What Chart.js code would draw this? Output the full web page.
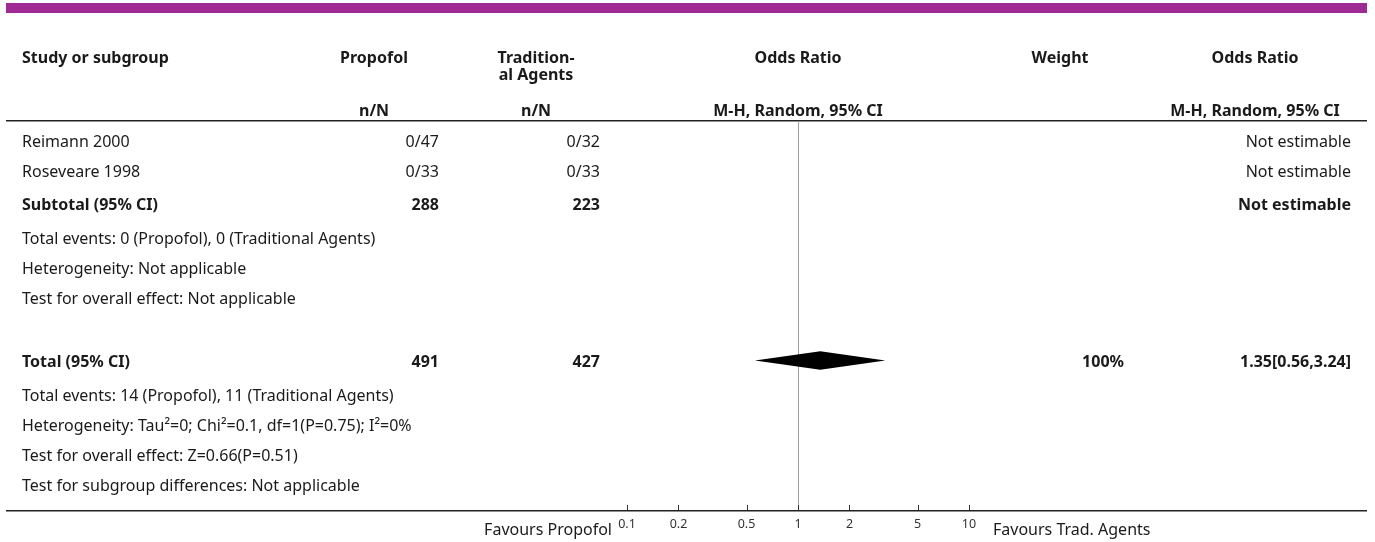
<!DOCTYPE html>
<html>
<head>
<meta charset="utf-8">
<script src="https://cdn.jsdelivr.net/npm/chart.js@4/dist/chart.umd.min.js"></script>
<style>
  html, body { margin: 0; padding: 0; background: #ffffff; overflow: hidden; }
  #wrap { position: relative; width: 1375px; height: 542px; }
</style>
</head>
<body>
<div id="wrap"><canvas id="forest" width="1375" height="542"></canvas></div>
<script>
// ---- data ----
const studyNames      = ['Reimann 2000', 'Roseveare 1998'];
const propofolEvents  = [0, 0];
const propofolTotals  = [47, 33];
const tradEvents      = [0, 0];
const tradTotals      = [32, 33];
const subtotalTotals  = [288, 223];
const overallTotals   = [491, 427];
const overallEvents   = [14, 11];
const pooledOR        = [1.35];
const pooledLow       = [0.56];
const pooledHigh      = [3.24];
const pooledWeight    = [100];
const axisTicks       = [0.1, 0.2, 0.5, 1, 2, 5, 10];
const subgroupNotes   = ['Heterogeneity: Not applicable', 'Test for overall effect: Not applicable'];
const overallNotes    = ['Heterogeneity: Tau\u00B2=0; Chi\u00B2=0.1, df=1(P=0.75); I\u00B2=0%',
                         'Test for overall effect: Z=0.66(P=0.51)',
                         'Test for subgroup differences: Not applicable'];

// ---- layout ----
const FONT = '"Noto Sans", "Open Sans", sans-serif';
const FS = 16;
const TEXT_DY = 2;              // optical nudge for middle-baseline text
const INK = '#1a1a1a';
const COL = { study: 22, propR: 439, propC: 374, tradR: 600, tradC: 536, weightR: 1124, weightC: 1060, orR: 1351, orC: 1255 };
// row band heights (in row units); summary rows are a little taller
const BAND_NORMAL = 1, BAND_SUMMARY = 37 / 30;
const ROW_MIN = -0.1, ROW_MAX = 12.833;
const DIAMOND_HALF = 0.307;

const sum = a => a.reduce((s, v) => s + v, 0);

// table rows, each placed at the centre of its band
const rows = [];
let cursor = 0;
function addRow(row, band) {
  row.r = cursor + band / 2;
  cursor += band;
  if (row.study !== null) rows.push(row);
  return row.r;
}
studyNames.forEach((n, i) => {
  addRow({ bold: false, study: n,
    prop: propofolEvents[i] + '/' + propofolTotals[i],
    trad: tradEvents[i] + '/' + tradTotals[i],
    or: 'Not estimable' }, BAND_NORMAL);
});
addRow({ bold: true, study: 'Subtotal (95% CI)', prop: String(subtotalTotals[0]), trad: String(subtotalTotals[1]), or: 'Not estimable' }, BAND_SUMMARY);
addRow({ bold: false, study: 'Total events: ' + sum(propofolEvents) + ' (Propofol), ' + sum(tradEvents) + ' (Traditional Agents)' }, BAND_NORMAL);
subgroupNotes.forEach(t => addRow({ bold: false, study: t }, BAND_NORMAL));
addRow({ study: null }, BAND_NORMAL); // spacer
const totalRow = addRow({ bold: true, study: 'Total (95% CI)', prop: String(overallTotals[0]), trad: String(overallTotals[1]),
  weight: pooledWeight[0] + '%', or: pooledOR[0].toFixed(2) + '[' + pooledLow[0].toFixed(2) + ',' + pooledHigh[0].toFixed(2) + ']' }, BAND_SUMMARY);
addRow({ bold: false, study: 'Total events: ' + overallEvents[0] + ' (Propofol), ' + overallEvents[1] + ' (Traditional Agents)' }, BAND_NORMAL);
overallNotes.forEach(t => addRow({ bold: false, study: t }, BAND_NORMAL));

// pooled-estimate diamond outline in (odds ratio, row) space
const diamond = [
  { x: pooledLow[0],  y: totalRow },
  { x: pooledOR[0],   y: totalRow - DIAMOND_HALF },
  { x: pooledHigh[0], y: totalRow },
  { x: pooledOR[0],   y: totalRow + DIAMOND_HALF },
  { x: pooledLow[0],  y: totalRow }
];

function txt(ctx, s, x, y, align, bold, size) {
  ctx.font = (bold ? 'bold ' : '') + (size || FS) + 'px ' + FONT;
  ctx.textAlign = align;
  ctx.textBaseline = 'middle';
  ctx.fillStyle = INK;
  ctx.fillText(s, x, y + TEXT_DY);
}

const tablePlugin = {
  id: 'forestTable',
  beforeDatasetsDraw(chart) {
    const ctx = chart.ctx, xs = chart.scales.x, ys = chart.scales.y, a = chart.chartArea;
    ctx.save();
    // top banner
    ctx.fillStyle = '#9e2a96';
    ctx.fillRect(6, 3, 1361, 10);
    // header rule and bottom rule
    ctx.strokeStyle = '#222';
    ctx.lineWidth = 1.5;
    ctx.beginPath();
    ctx.moveTo(6, a.top - 1.25); ctx.lineTo(1367, a.top - 1.25);
    ctx.moveTo(6, a.bottom + 0.75); ctx.lineTo(1367, a.bottom + 0.75);
    ctx.stroke();
    // line of no effect
    ctx.strokeStyle = '#a0a0a0';
    ctx.lineWidth = 1;
    const x1 = Math.round(xs.getPixelForValue(1)) + 0.5;
    ctx.beginPath(); ctx.moveTo(x1, a.top); ctx.lineTo(x1, a.bottom); ctx.stroke();
    // tick marks pointing up from the axis
    ctx.strokeStyle = '#333';
    ctx.beginPath();
    xs.ticks.forEach((t, i) => {
      const px = Math.round(xs.getPixelForTick(i)) + 0.5;
      ctx.moveTo(px, a.bottom); ctx.lineTo(px, a.bottom - 5);
    });
    ctx.stroke();

    // headers
    const midOR = (a.left + a.right) / 2;
    txt(ctx, 'Study or subgroup', COL.study, 56, 'left', true);
    txt(ctx, 'Propofol', COL.propC, 56, 'center', true);
    txt(ctx, 'Tradition-', COL.tradC, 56, 'center', true);
    txt(ctx, 'al Agents', COL.tradC, 73, 'center', true);
    txt(ctx, 'Odds Ratio', midOR, 56, 'center', true);
    txt(ctx, 'Weight', COL.weightC, 56, 'center', true);
    txt(ctx, 'Odds Ratio', COL.orC, 56, 'center', true);
    txt(ctx, 'n/N', COL.propC, 109, 'center', true);
    txt(ctx, 'n/N', COL.tradC, 109, 'center', true);
    txt(ctx, 'M-H, Random, 95% CI', midOR, 109, 'center', true);
    txt(ctx, 'M-H, Random, 95% CI', COL.orC, 109, 'center', true);

    // body rows
    rows.forEach(row => {
      const y = ys.getPixelForValue(row.r);
      txt(ctx, row.study, COL.study, y, 'left', row.bold);
      if (row.prop) txt(ctx, row.prop, COL.propR, y, 'right', row.bold);
      if (row.trad) txt(ctx, row.trad, COL.tradR, y, 'right', row.bold);
      if (row.weight) txt(ctx, row.weight, COL.weightR, y, 'right', row.bold);
      if (row.or) txt(ctx, row.or, COL.orR, y, 'right', row.bold);
    });

    // favours labels
    txt(ctx, 'Favours Propofol', a.left - 15, 528, 'right', false);
    txt(ctx, 'Favours Trad. Agents', a.right + 24, 528, 'left', false);
    ctx.restore();
  }
};

new Chart(document.getElementById('forest'), {
  type: 'line',
  data: {
    datasets: [{
      label: 'Total (95% CI)',
      data: diamond,
      borderWidth: 0,
      borderColor: '#000',
      backgroundColor: '#000',
      fill: 'shape',
      pointRadius: 0,
      tension: 0
    }]
  },
  options: {
    responsive: false,
    devicePixelRatio: 1,
    animation: false,
    events: [],
    layout: { padding: { left: 627, right: 406, top: 122, bottom: 0 } },
    plugins: { legend: { display: false }, tooltip: { enabled: false } },
    scales: {
      x: {
        type: 'logarithmic',
        min: 0.1, max: 10,
        afterBuildTicks: s => { s.ticks = axisTicks.map(v => ({ value: v })); },
        afterFit: s => { s.height = 32; },
        grid: { display: false, drawTicks: false },
        border: { display: false },
        ticks: {
          autoSkip: false, maxRotation: 0, padding: 7,
          color: '#333', font: { size: 12.5, family: FONT },
          callback: v => String(v)
        }
      },
      y: {
        type: 'linear', reverse: true, display: false,
        min: ROW_MIN, max: ROW_MAX
      }
    }
  },
  plugins: [tablePlugin]
});
</script>
</body>
</html>
